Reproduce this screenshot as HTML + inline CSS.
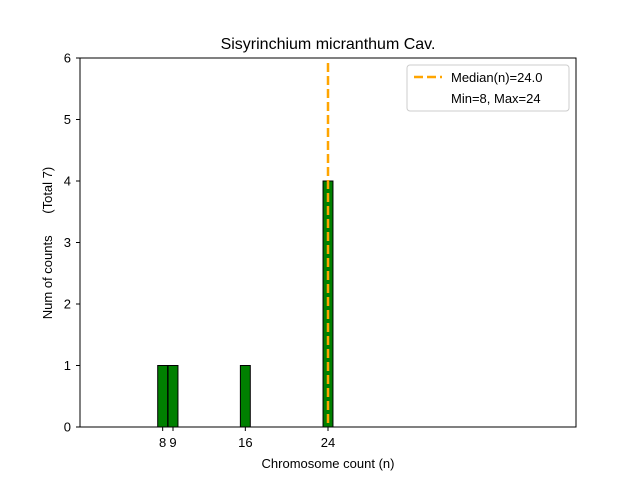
<!DOCTYPE html>
<html><head><meta charset="utf-8"><style>body{margin:0;background:#fff}svg{display:block;font-family:"Liberation Sans","DejaVu Sans",sans-serif}</style></head>
<body>
<svg id="chart" width="640" height="480" viewBox="0 0 640 480">
<rect width="640" height="480" fill="#fff"/>
<text x="328" y="49" text-anchor="middle" font-size="16">Sisyrinchium micranthum Cav.</text>
<g id="bars"></g>
<g id="yticks"></g>
<g id="xticks"></g>
<line id="median" stroke="#ffa500" stroke-width="2.5" stroke-dasharray="9,4"/>
<rect x="80" y="58" width="496" height="369" fill="none" stroke="#000" stroke-width="1"/>
<text x="328" y="468" text-anchor="middle" font-size="13">Chromosome count (n)</text>
<text transform="translate(52,243) rotate(-90)" text-anchor="middle" font-size="13">Num of counts&#160;&#160;&#160;&#160;&#160;&#160;(Total 7)</text>
<g>
<rect x="407" y="65" width="162" height="46" rx="3" fill="#fff" stroke="#ccc"/>
<line x1="414" y1="77" x2="442" y2="77" stroke="#ffa500" stroke-width="2.5" stroke-dasharray="9,4"/>
<text x="451" y="82" font-size="13">Median(n)=24.0</text>
<text x="451" y="103" font-size="13">Min=8, Max=24</text>
</g>
</svg>
<script>
const binValues=[3,4,5,6,7,8,9,10,11,12,13,14,15,16,17,18,19,20,21,22,23,24,25,26,27];
const binCounts=[0,0,0,0,0,1,1,0,0,0,0,0,0,1,0,0,0,0,0,0,0,4,0,0,0];
const xTickValues=[8,9,16,24];
const yTickValues=[0,1,2,3,4,5,6];
const medianValue=24;
const NS="http://www.w3.org/2000/svg";
const xs=v=>80+v*(496/48), ys=v=>427-v*(369/6);
const bars=document.getElementById('bars');
binValues.forEach((b,i)=>{
 const r=document.createElementNS(NS,'rect');
 const x0=xs(b-0.48),x1=xs(b+0.48);
 r.setAttribute('x',x0);r.setAttribute('width',x1-x0);
 r.setAttribute('y',ys(binCounts[i]));r.setAttribute('height',ys(0)-ys(binCounts[i]));
 r.setAttribute('fill','green');r.setAttribute('stroke','#000');r.setAttribute('stroke-width','1');
 
 
 bars.appendChild(r);
});
const yt=document.getElementById('yticks');
yTickValues.forEach(v=>{
 const l=document.createElementNS(NS,'line');
 l.setAttribute('x1',76);l.setAttribute('x2',80);l.setAttribute('y1',ys(v));l.setAttribute('y2',ys(v));l.setAttribute('stroke','#000');
 
 
 yt.appendChild(l);
 const t=document.createElementNS(NS,'text');
 t.setAttribute('x',71);t.setAttribute('y',ys(v)+4.5);t.setAttribute('text-anchor','end');t.setAttribute('font-size','13');t.textContent=v;
 
 
 yt.appendChild(t);
});
const xt=document.getElementById('xticks');
xTickValues.forEach(v=>{
 const l=document.createElementNS(NS,'line');
 l.setAttribute('x1',xs(v));l.setAttribute('x2',xs(v));l.setAttribute('y1',427);l.setAttribute('y2',431);l.setAttribute('stroke','#000');
 
 
 xt.appendChild(l);
 const t=document.createElementNS(NS,'text');
 t.setAttribute('x',xs(v));t.setAttribute('y',447);t.setAttribute('text-anchor','middle');t.setAttribute('font-size','13');t.textContent=v;
 
 
 xt.appendChild(t);
});
const m=document.getElementById('median');
m.setAttribute('x1',xs(medianValue));m.setAttribute('x2',xs(medianValue));m.setAttribute('y1',63);m.setAttribute('y2',427);
</script>
</body></html>
